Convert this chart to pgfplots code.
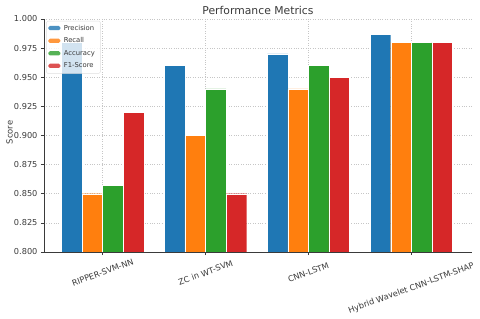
\documentclass[border=0pt]{standalone}
\usepackage{pgfplots}
\pgfplotsset{compat=1.18}
\usepackage{fontspec}
\setmainfont{DejaVu Sans}
\definecolor{cblue}{HTML}{1F77B4}
\definecolor{corange}{HTML}{FF7F0E}
\definecolor{cgreen}{HTML}{2CA02C}
\definecolor{cred}{HTML}{D62728}
\definecolor{txt}{HTML}{3A3A3A}
\begin{document}
\begin{tikzpicture}
\useasboundingbox (0,0) rectangle (480pt,319pt);
\begin{axis}[
  at={(44pt,67pt)}, anchor=south west,
  scale only axis, width=428pt, height=233pt,
  xmin=-0.57, xmax=3.59, ymin=0.8, ymax=1.0,
  axis x line=bottom, axis y line=left,
  axis line style={-, line width=0.8pt, color=txt},
  xtick={0,1,2},
  xticklabels={RIPPER-SVM-NN, ZC in WT-SVM, CNN-LSTM},
  extra x ticks={3},
  extra x tick labels={Hybrid Wavelet CNN-LSTM-SHAP},
  extra x tick style={xticklabel style={xshift=-5.5pt, yshift=-15pt}},
  ytick={0.8,0.825,0.85,0.875,0.9,0.925,0.95,0.975,1.0},
  yticklabel style={/pgf/number format/.cd, fixed, fixed zerofill, precision=3, assume math mode=true},
  tick label style={font=\fontsize{8.2}{10}\selectfont, color=txt},
  xticklabel style={rotate=20, anchor=center, xshift=-6pt, yshift=-16.5pt},
  tick align=outside, major tick length=3pt,
  tick style={color=txt, line width=0.6pt},
  grid=major, major grid style={dotted, color=gray!45, line width=0.5pt},
  title={Performance Metrics},
  title style={font=\fontsize{10.8}{12}\selectfont, color=txt, at={(0.5,1)}, anchor=center, yshift=3pt},
  ylabel={Score},
  ylabel style={font=\fontsize{8.4}{10}\selectfont, color=txt, at={(rel axis cs:0,0.5)}, anchor=center, xshift=3pt, yshift=34.5pt},
  ybar, bar width=0.2,
  every axis plot/.append style={draw=white, line width=0.3pt},
  legend style={at={(0.005,0.992)}, anchor=north west, font=\fontsize{6.8}{7.5}\selectfont,
    draw=gray!25, fill=white, fill opacity=0.8, text opacity=1, rounded corners=1.5pt,
    row sep=2.0pt, inner xsep=2pt, inner ysep=2pt, text=txt,
    nodes={inner xsep=3.5pt}},
  legend cell align=left,
  legend image code/.code={\fill[#1, draw=none] (0pt,-1.8pt) rectangle (12pt,2.4pt);},
]
\addplot[fill=cblue, bar shift=-0.3] coordinates {(0,0.98) (1,0.96) (2,0.97) (3,0.987)};
\addplot[fill=corange, bar shift=-0.1] coordinates {(0,0.85) (1,0.90) (2,0.94) (3,0.98)};
\addplot[fill=cgreen, bar shift=0.1] coordinates {(0,0.857) (1,0.94) (2,0.96) (3,0.98)};
\addplot[fill=cred, bar shift=0.3] coordinates {(0,0.92) (1,0.85) (2,0.95) (3,0.98)};
\legend{Precision, Recall, Accuracy, F1-Score}
\end{axis}
\end{tikzpicture}
\end{document}
